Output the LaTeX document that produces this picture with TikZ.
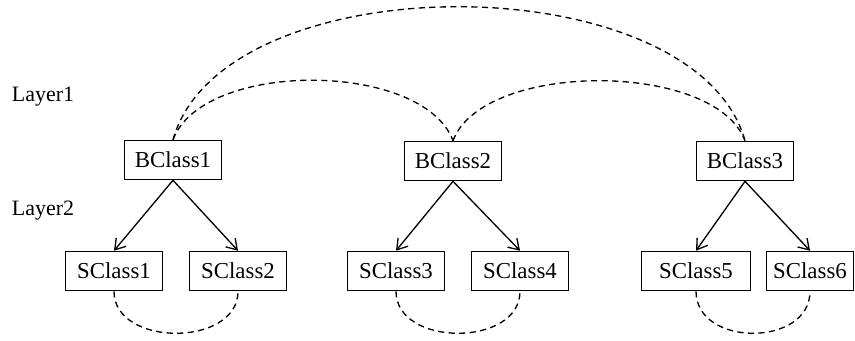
\documentclass[tikz,border=0pt]{standalone}
\usepackage{fontspec}
\setmainfont{Liberation Serif}
\usetikzlibrary{arrows.meta}

\tikzset{
  cls/.style={draw, line width=0.9pt, minimum width=1.94cm, minimum height=0.78cm, inner sep=0pt, font=\fontsize{13}{15}\selectfont},
  lay/.style={font=\fontsize{12.5}{15}\selectfont},
  link/.style={line width=0.75pt, dash pattern=on 3.5pt off 2.5pt},
  kid/.style={line width=0.75pt, -{Straight Barb[length=2mm,width=2.6mm]}}
}

\begin{document}
\begin{tikzpicture}[x=0.02cm, y=-0.02cm]
\useasboundingbox (0,0) rectangle (855,341);
% couches
\node[lay] (l1) at (43,97) {Layer1};
\node[lay] (l2) at (43,211) {Layer2};
% classes B
\node[cls] (b1) at (173,160) {BClass1};
\node[cls] (b2) at (453,161) {BClass2};
\node[cls] (b3) at (745,161) {BClass3};
% classes S
\node[cls] (s1) at (114,271) {SClass1};
\node[cls] (s2) at (238,271) {SClass2};
\node[cls] (s3) at (396,271) {SClass3};
\node[cls] (s4) at (520,271) {SClass4};
\node[cls, minimum width=2.18cm] (s5) at (696,271) {SClass5};
\node[cls, minimum width=1.74cm] (s6) at (810,271) {SClass6};
% fleches
\draw[kid] (b1.south) -- (s1.north);
\draw[kid] (b1.south) -- (s2.north);
\draw[kid] (b2.south) -- (s3.north);
\draw[kid] (b2.south) -- (s4.north);
\draw[kid] (b3.south) -- (s5.north);
\draw[kid] (b3.south) -- (s6.north);
% liens haut
\draw[link] (b1.north) .. controls +(30,-80) and +(-30,-80) .. (b2.north);
\draw[link] (b2.north) .. controls +(30,-80) and +(-30,-80) .. (b3.north);
\draw[link] (b1.north) .. controls +(50,-178) and +(-50,-178) .. (b3.north);
% liens bas
\draw[link] (s1.south) .. controls +(0,56) and +(0,56) .. (s2.south);
\draw[link] (s3.south) .. controls +(0,56) and +(0,56) .. (s4.south);
\draw[link] (s5.south) .. controls +(0,56) and +(0,56) .. (s6.south);
\end{tikzpicture}
\end{document}
